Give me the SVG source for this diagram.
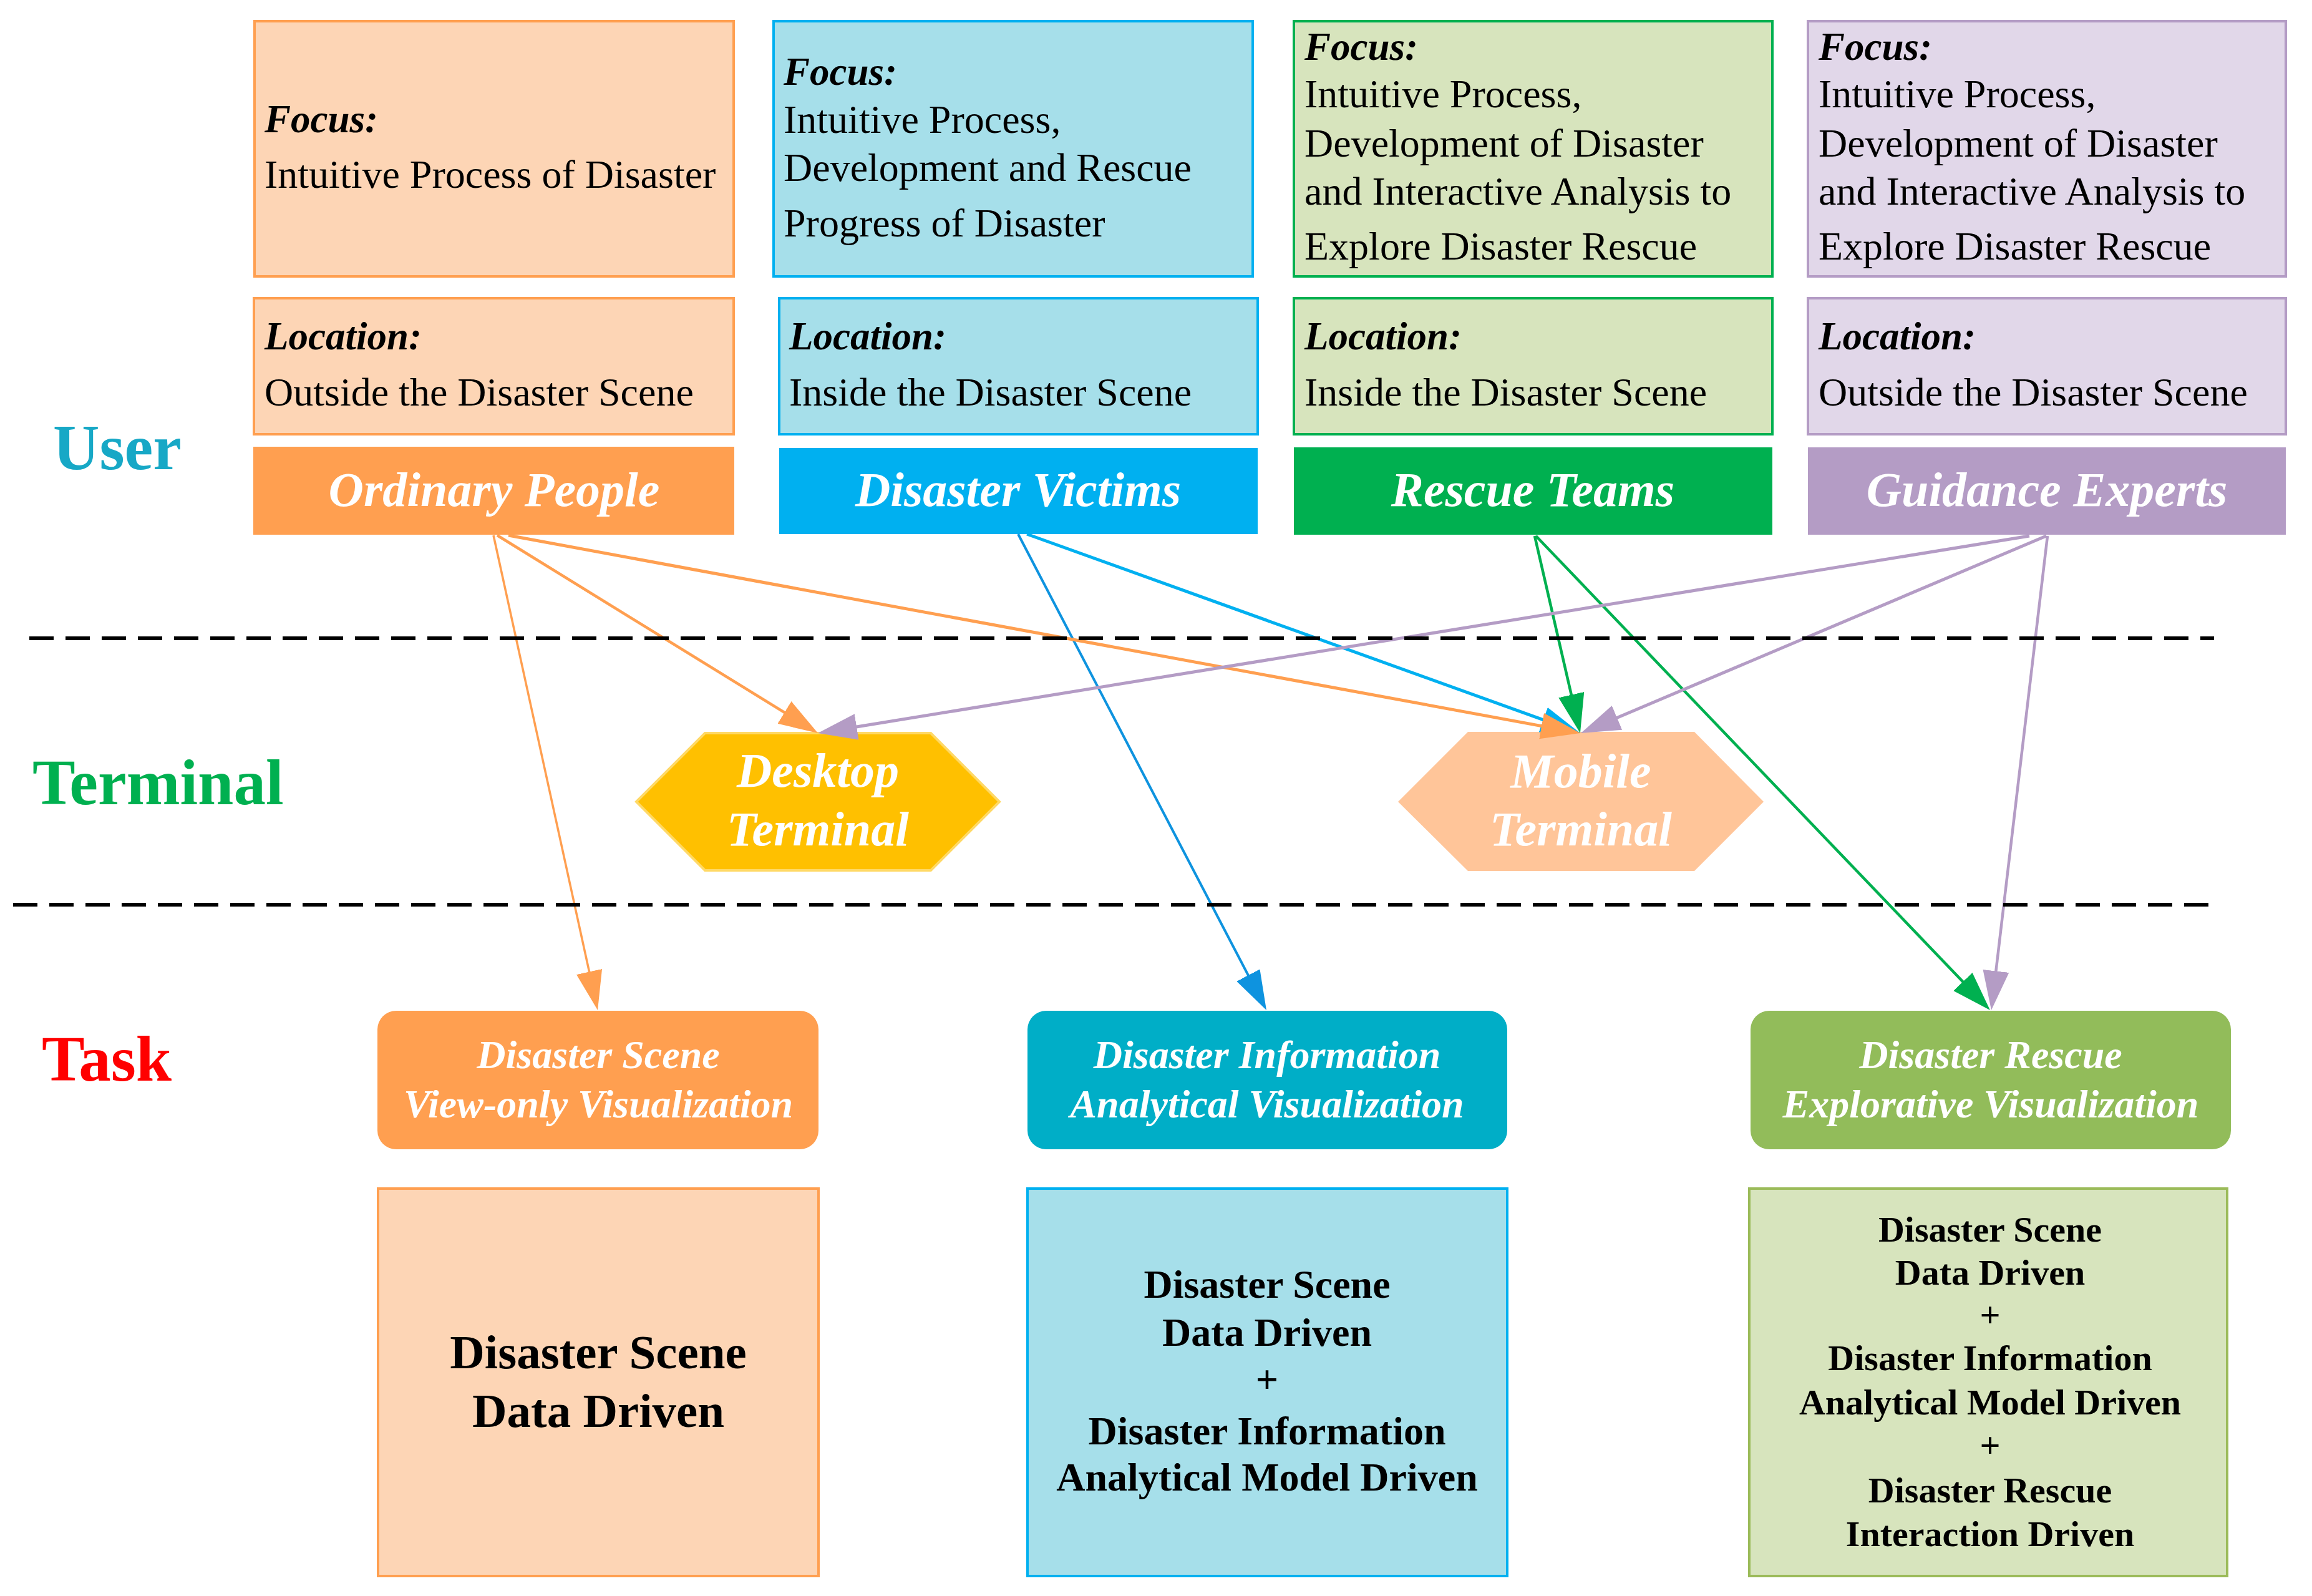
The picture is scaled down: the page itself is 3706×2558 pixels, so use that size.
<svg xmlns="http://www.w3.org/2000/svg" width="3706" height="2558" viewBox="0 0 3706 2558">
<style>
text{font-family:"Liberation Serif","Times New Roman",serif}
.lbl{font-size:103px;font-weight:bold}
.hd{font-size:63px;font-weight:bold;font-style:italic;fill:#000}
.bd{font-size:64px;fill:#000}
.role{font-size:78px;font-weight:bold;font-style:italic;fill:#fff;text-anchor:middle}
.task{font-size:64px;font-weight:bold;font-style:italic;fill:#fff;text-anchor:middle}
.data{font-weight:bold;fill:#000;text-anchor:middle}
.box{stroke-width:4}
.edge{fill:none}
.dash{stroke:#000;stroke-width:6;stroke-dasharray:39 19;fill:none}
</style>
<defs>
<marker id="aO" markerUnits="userSpaceOnUse" markerWidth="70" markerHeight="50" refX="33" refY="21" orient="auto"><path d="M0,0 L63,21 L0,42 Z" fill="#FF9F50"/></marker>
<marker id="aB" markerUnits="userSpaceOnUse" markerWidth="70" markerHeight="50" refX="33" refY="21" orient="auto"><path d="M0,0 L63,21 L0,42 Z" fill="#00B0F0"/></marker>
<marker id="aD" markerUnits="userSpaceOnUse" markerWidth="70" markerHeight="50" refX="33" refY="21" orient="auto"><path d="M0,0 L63,21 L0,42 Z" fill="#0E93DF"/></marker>
<marker id="aG" markerUnits="userSpaceOnUse" markerWidth="70" markerHeight="50" refX="33" refY="21" orient="auto"><path d="M0,0 L63,21 L0,42 Z" fill="#00B050"/></marker>
<marker id="aP" markerUnits="userSpaceOnUse" markerWidth="70" markerHeight="50" refX="33" refY="21" orient="auto"><path d="M0,0 L63,21 L0,42 Z" fill="#B49CC5"/></marker>
</defs>
<rect width="3706" height="2558" fill="#fff"/>

<g id="row-labels">
<text class="lbl" x="85" y="752" fill="#17A8C6">User</text>
<text class="lbl" x="52" y="1289" fill="#00B050">Terminal</text>
<text class="lbl" x="67" y="1732" fill="#FF0000">Task</text>
</g>

<g id="focus-ordinary">
<rect class="box" x="408" y="34" width="768" height="409" fill="#FDD5B5" stroke="#FF9F50"/>
<text class="hd" x="424" y="212">Focus:</text>
<text class="bd" x="424" y="301">Intuitive Process of Disaster</text>
</g>
<g id="focus-victims">
<rect class="box" x="1240" y="34" width="768" height="409" fill="#A6DFEA" stroke="#00B0F0"/>
<text class="hd" x="1256" y="136">Focus:</text>
<text class="bd" x="1256" y="213">Intuitive Process,</text>
<text class="bd" x="1256" y="290">Development and Rescue</text>
<text class="bd" x="1256" y="379">Progress of Disaster</text>
</g>
<g id="focus-rescue">
<rect class="box" x="2074" y="34" width="767" height="409" fill="#D7E4BD" stroke="#00B050"/>
<text class="hd" x="2091" y="96">Focus:</text>
<text class="bd" x="2091" y="172">Intuitive Process,</text>
<text class="bd" x="2091" y="251">Development of Disaster</text>
<text class="bd" x="2091" y="328">and Interactive Analysis to</text>
<text class="bd" x="2091" y="416">Explore Disaster Rescue</text>
</g>
<g id="focus-experts">
<rect class="box" x="2898" y="34" width="766" height="409" fill="#E1D7E9" stroke="#B49CC5"/>
<text class="hd" x="2915" y="96">Focus:</text>
<text class="bd" x="2915" y="172">Intuitive Process,</text>
<text class="bd" x="2915" y="251">Development of Disaster</text>
<text class="bd" x="2915" y="328">and Interactive Analysis to</text>
<text class="bd" x="2915" y="416">Explore Disaster Rescue</text>
</g>

<g id="location-ordinary">
<rect class="box" x="407" y="478" width="769" height="218" fill="#FDD5B5" stroke="#FF9F50"/>
<text class="hd" x="424" y="560">Location:</text>
<text class="bd" x="424" y="650">Outside the Disaster Scene</text>
</g>
<g id="location-victims">
<rect class="box" x="1249" y="478" width="767" height="218" fill="#A6DFEA" stroke="#00B0F0"/>
<text class="hd" x="1265" y="560">Location:</text>
<text class="bd" x="1265" y="650">Inside the Disaster Scene</text>
</g>
<g id="location-rescue">
<rect class="box" x="2074" y="478" width="767" height="218" fill="#D7E4BD" stroke="#00B050"/>
<text class="hd" x="2091" y="560">Location:</text>
<text class="bd" x="2091" y="650">Inside the Disaster Scene</text>
</g>
<g id="location-experts">
<rect class="box" x="2898" y="478" width="766" height="218" fill="#E1D7E9" stroke="#B49CC5"/>
<text class="hd" x="2915" y="560">Location:</text>
<text class="bd" x="2915" y="650">Outside the Disaster Scene</text>
</g>

<g id="ordinary-people">
<rect x="406" y="716" width="771" height="141" fill="#FF9F50"/>
<text class="role" x="792" y="811">Ordinary People</text>
</g>
<g id="disaster-victims">
<rect x="1249" y="718" width="767" height="138" fill="#00B0F0"/>
<text class="role" x="1632" y="811">Disaster Victims</text>
</g>
<g id="rescue-teams">
<rect x="2074" y="717" width="767" height="140" fill="#00B050"/>
<text class="role" x="2457" y="811">Rescue Teams</text>
</g>
<g id="guidance-experts">
<rect x="2898" y="717" width="766" height="140" fill="#B49CC5"/>
<text class="role" x="3281" y="811">Guidance Experts</text>
</g>

<g id="desktop-terminal">
<polygon points="1020,1285 1130,1175 1492,1175 1602,1285 1492,1395 1130,1395" fill="#FFC000" stroke="#FFD966" stroke-width="4"/>
<text class="role" x="1311" y="1261">Desktop</text>
<text class="role" x="1311" y="1355">Terminal</text>
</g>
<g id="mobile-terminal">
<polygon points="2241,1285 2353,1173 2716,1173 2827,1285 2716,1396 2353,1396" fill="#FFC599"/>
<text class="role" x="2534" y="1262">Mobile</text>
<text class="role" x="2534" y="1355">Terminal</text>
</g>

<g id="task-view-only">
<rect x="605" y="1620" width="707" height="222" rx="30" fill="#FF9F50"/>
<text class="task" x="959" y="1712">Disaster Scene</text>
<text class="task" x="959" y="1791">View-only Visualization</text>
</g>
<g id="task-analytical">
<rect x="1647" y="1620" width="769" height="222" rx="30" fill="#00AEC7"/>
<text class="task" x="2031" y="1712">Disaster Information</text>
<text class="task" x="2031" y="1791">Analytical Visualization</text>
</g>
<g id="task-explorative">
<rect x="2806" y="1620" width="770" height="222" rx="30" fill="#92BC5A"/>
<text class="task" x="3191" y="1712">Disaster Rescue</text>
<text class="task" x="3191" y="1791">Explorative Visualization</text>
</g>

<g id="data-view-only">
<rect class="box" x="606" y="1905" width="706" height="621" fill="#FDD5B5" stroke="#FF9F50"/>
<text class="data" x="959" y="2193" font-size="77">Disaster Scene</text>
<text class="data" x="959" y="2287" font-size="77">Data Driven</text>
</g>
<g id="data-analytical">
<rect class="box" x="1647" y="1905" width="769" height="621" fill="#A6DFEA" stroke="#00B0F0"/>
<text class="data" x="2031" y="2080" font-size="64">Disaster Scene</text>
<text class="data" x="2031" y="2157" font-size="64">Data Driven</text>
<text class="data" x="2031" y="2232" font-size="64">+</text>
<text class="data" x="2031" y="2315" font-size="64">Disaster Information</text>
<text class="data" x="2031" y="2389" font-size="64">Analytical Model Driven</text>
</g>
<g id="data-explorative">
<rect class="box" x="2804" y="1905" width="766" height="621" fill="#D7E4BD" stroke="#9BBB59"/>
<text class="data" x="3190" y="1990" font-size="58">Disaster Scene</text>
<text class="data" x="3190" y="2059" font-size="58">Data Driven</text>
<text class="data" x="3190" y="2127" font-size="58">+</text>
<text class="data" x="3190" y="2196" font-size="58">Disaster Information</text>
<text class="data" x="3190" y="2267" font-size="58">Analytical Model Driven</text>
<text class="data" x="3190" y="2336" font-size="58">+</text>
<text class="data" x="3190" y="2408" font-size="58">Disaster Rescue</text>
<text class="data" x="3190" y="2478" font-size="58">Interaction Driven</text>
</g>

<g id="connectors" class="edge">
<line x1="1646" y1="856" x2="2504.8" y2="1164.8" stroke="#00B0F0" stroke-width="5" marker-end="url(#aB)"/>
<line x1="1632" y1="856" x2="2016.1" y2="1592.4" stroke="#0E93DF" stroke-width="4" marker-end="url(#aD)"/>
<line x1="791" y1="858" x2="951.6" y2="1589.7" stroke="#FF9F50" stroke-width="3.5" marker-end="url(#aO)"/>
<line x1="797" y1="858" x2="1285.5" y2="1159.3" stroke="#FF9F50" stroke-width="4.5" marker-end="url(#aO)"/>
<line x1="815" y1="858" x2="2503.5" y2="1169.6" stroke="#FF9F50" stroke-width="5" marker-end="url(#aO)"/>
<line x1="2460" y1="859" x2="2526.2" y2="1145.8" stroke="#00B050" stroke-width="4.5" marker-end="url(#aG)"/>
<line x1="2462" y1="859" x2="3169.2" y2="1597.3" stroke="#00B050" stroke-width="4.5" marker-end="url(#aG)"/>
<line x1="3253" y1="859" x2="1340.6" y2="1170.2" stroke="#B49CC5" stroke-width="5" marker-end="url(#aP)"/>
<line x1="3280" y1="859" x2="2561.6" y2="1163.3" stroke="#B49CC5" stroke-width="5" marker-end="url(#aP)"/>
<line x1="3282" y1="859" x2="3195.5" y2="1589.2" stroke="#B49CC5" stroke-width="4.5" marker-end="url(#aP)"/>
</g>

<g id="separators">
<line class="dash" x1="47" y1="1023" x2="3549" y2="1023"/>
<line class="dash" x1="21" y1="1450" x2="3545" y2="1450"/>
</g>
</svg>
